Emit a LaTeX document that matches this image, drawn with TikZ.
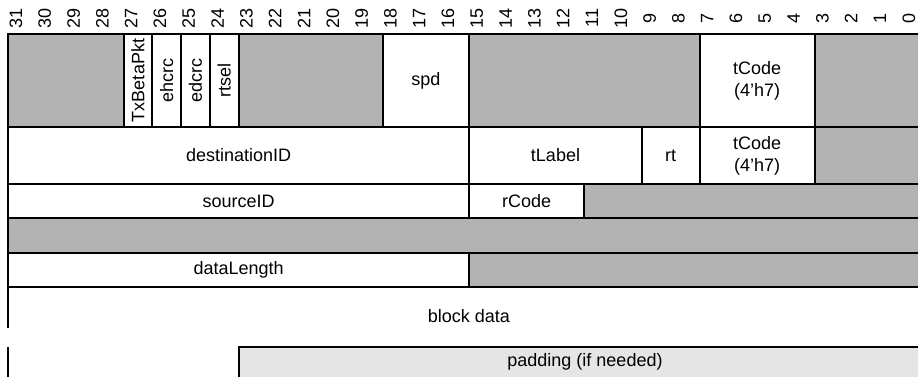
\documentclass[tikz,border=0pt]{standalone}
\usepackage{fontspec}
\setmainfont{Liberation Sans}
\definecolor{resv}{HTML}{B3B3B3}
\definecolor{padgray}{HTML}{E5E5E5}
% bit geometry: left edge and width of one bit
\def\bitleft{8.3}
\def\bitw{28.8}
% \regfield{name}{high bit}{low bit}{top y}{bottom y}{style}{text}
\newcommand\regfield[7]{%
  \pgfmathsetmacro\fxl{\bitleft+(31-#2)*\bitw}%
  \pgfmathsetmacro\fxr{\bitleft+(32-#3)*\bitw}%
  \pgfmathsetmacro\fw{\fxr-\fxl}%
  \pgfmathsetmacro\fh{#5-#4}%
  \node[#6, minimum width=\fw pt, minimum height=\fh pt] (#1)
    at ({(\fxl+\fxr)/2},{(#4+#5)/2}) {#7};}
\tikzset{
  field/.style={draw, line width=2pt, fill=white, inner sep=0pt, outer sep=0pt,
    align=center, font=\fontsize{18}{22}\selectfont},
  rsvd/.style={field, fill=resv},
  bitnum/.style={rotate=90, inner sep=0pt, font=\fontsize{18}{22}\selectfont},
  plain/.style={inner sep=0pt, font=\fontsize{18}{22}\selectfont},
  edge/.style={line width=2pt},
  padedge/.style={line width=1.2pt}
}
\begin{document}
\begin{tikzpicture}[x=1pt,y=-1pt]
\clip (0,0) rectangle (918,377);
\fill[white] (0,0) rectangle (918,377);

% bit numbers
\foreach \b in {0,...,31}{
  \pgfmathsetmacro\bx{16+(31-\b)*\bitw}
  \node[bitnum] (bit\b) at (\bx,18) {\b};
}

% word 0
\regfield{w0a}{31}{28}{34}{127}{rsvd}{}
\regfield{txbeta}{27}{27}{34}{127}{field}{\rotatebox{90}{TxBetaPkt}}
\regfield{ehcrc}{26}{26}{34}{127}{field}{\rotatebox{90}{ehcrc}}
\regfield{edcrc}{25}{25}{34}{127}{field}{\rotatebox{90}{edcrc}}
\regfield{rtsel}{24}{24}{34}{127}{field}{\rotatebox{90}{rtsel}}
\regfield{w0b}{23}{19}{34}{127}{rsvd}{}
\regfield{spd}{18}{16}{34}{127}{field}{spd}
\regfield{w0c}{15}{8}{34}{127}{rsvd}{}
\regfield{tcodea}{7}{4}{34}{127}{field}{tCode\\(4’h7)}
\regfield{w0d}{3}{0}{34}{127}{rsvd}{}

% word 1
\regfield{dest}{31}{16}{127}{184}{field}{destinationID}
\regfield{tlabel}{15}{10}{127}{184}{field}{tLabel}
\regfield{rt}{9}{8}{127}{184}{field}{rt}
\regfield{tcodeb}{7}{4}{127}{184}{field}{tCode\\(4’h7)}
\regfield{w1a}{3}{0}{127}{184}{rsvd}{}

% word 2
\regfield{src}{31}{16}{184}{218}{field}{sourceID}
\regfield{rcode}{15}{12}{184}{218}{field}{rCode}
\regfield{w2a}{11}{0}{184}{218}{rsvd}{}

% word 3
\regfield{w3}{31}{0}{218}{253}{rsvd}{}

% word 4
\regfield{dlen}{31}{16}{253}{287}{field}{dataLength}
\regfield{w4a}{15}{0}{253}{287}{rsvd}{}

% block data, open at the bottom
\coordinate (bdtop) at (\bitleft,287);
\coordinate (bdbot) at (\bitleft,328);
\draw[edge] (bdtop) -- (bdbot);
\node[plain] (bdata) at (469,316) {block data};

% padding
\coordinate (pleft) at (239,347);
\coordinate (pright) at (940,347);
\coordinate (pbot) at (239,390);
\fill[padgray] (pleft) rectangle (940,390);
\draw[padedge] (pright) -- (pleft) -- (pbot);
\node[plain] (pad) at (585,362) {padding (if needed)};

% left edge below the gap
\coordinate (ltop) at (\bitleft,347);
\coordinate (lbot) at (\bitleft,390);
\draw[edge] (ltop) -- (lbot);
\end{tikzpicture}
\end{document}
